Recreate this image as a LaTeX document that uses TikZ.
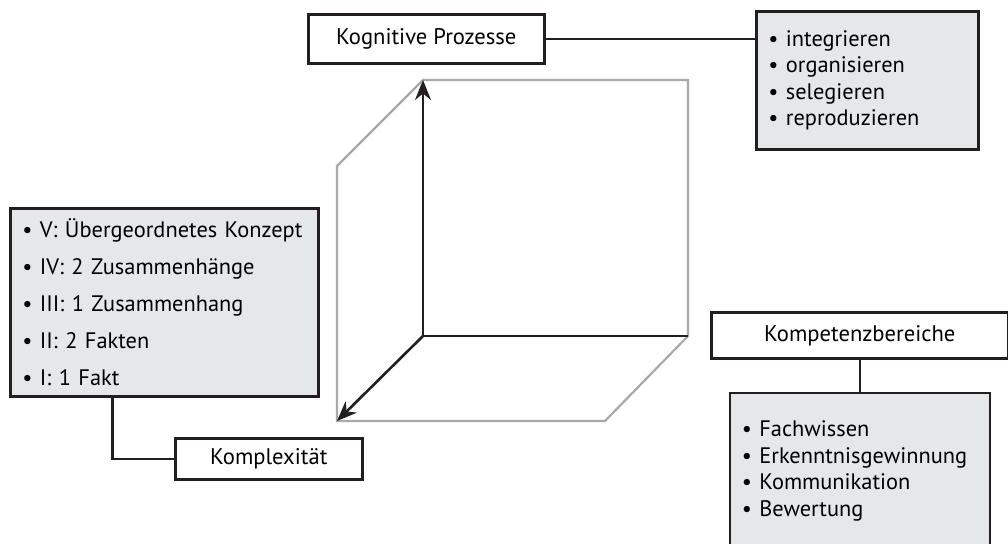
\documentclass[tikz,border=0pt]{standalone}
\usepackage{fontspec}
\setmainfont{PT Sans}
\usepackage{tikz}
\usetikzlibrary{arrows.meta, positioning}
\usepackage{xcolor}
\definecolor{framegray}{HTML}{231F20}
\definecolor{cubegray}{HTML}{A7A9AC}
\definecolor{listfill}{HTML}{E6E7E8}

\begin{document}
\begin{tikzpicture}[x=0.5pt, y=-0.5pt, node distance=16pt, >={Stealth[length=10pt, width=8pt]},
  title/.style={rectangle, draw=framegray, line width=1.3pt, fill=white, inner sep=0pt, anchor=north west, font=\fontsize{11.3}{13.3}\selectfont},
  list/.style={rectangle, draw=framegray, line width=1.3pt, fill=listfill, align=left, anchor=north west, inner xsep=6pt, inner ysep=0pt, font=\fontsize{11.2}{13.3}\selectfont},
  cubeline/.style={draw=cubegray, line width=1.1pt},
  axis/.style={draw=framegray, line width=1.3pt},
  link/.style={draw=framegray, line width=1.3pt}]
  \useasboundingbox (0,0) rectangle (1008,543);

  % cube
  \coordinate (o) at (423,336);
  \coordinate (top) at (423,80);
  \coordinate (right) at (688,336);
  \coordinate (front) at (337,421);
  \draw[cubeline] (front) -- (337,166) -- (top) -- (688,80) -- (right) -- (605,421) -- cycle;
  \draw[axis, ->] (o) -- (top);
  \draw[axis] (o) -- (right);
  \draw[axis, ->] (o) -- (front);

  % boxes
  \node[title, minimum width=118pt, minimum height=24.5pt] (kog) at (307,13) {Kognitive Prozesse};
  \node[list, minimum width=111pt, minimum height=69pt, text width=99pt] (proz) at (755,10)
    {• integrieren\\• organisieren\\• selegieren\\• reproduzieren};
  \node[list, minimum width=154pt, minimum height=94pt, text width=142pt] (stufen) at (9,207)
    {• V: Übergeordnetes Konzept\\[5.2pt]• IV: 2 Zusammenhänge\\[5.2pt]• III: 1 Zusammenhang\\[5.2pt]• II: 2 Fakten\\[5.2pt]• I: 1 Fakt};
  \node[title, minimum width=93.5pt, minimum height=20.5pt] (kompl) at (174,437) {Komplexität};
  \node[title, minimum width=148.5pt, minimum height=23pt] (komp) at (710,311) {Kompetenzbereiche};
  \node[list, below=of komp, minimum width=130pt, minimum height=78pt, text width=118pt] (fach)
    {• Fachwissen\\• Erkenntnisgewinnung\\• Kommunikation\\• Bewertung};

  % links
  \draw[link] (kog.east) -- (kog.east -| proz.west);
  \draw[link] ([xshift=-26pt]stufen.south) |- (kompl.west);
  \draw[link] (komp.south) -- (fach.north);
\end{tikzpicture}
\end{document}
